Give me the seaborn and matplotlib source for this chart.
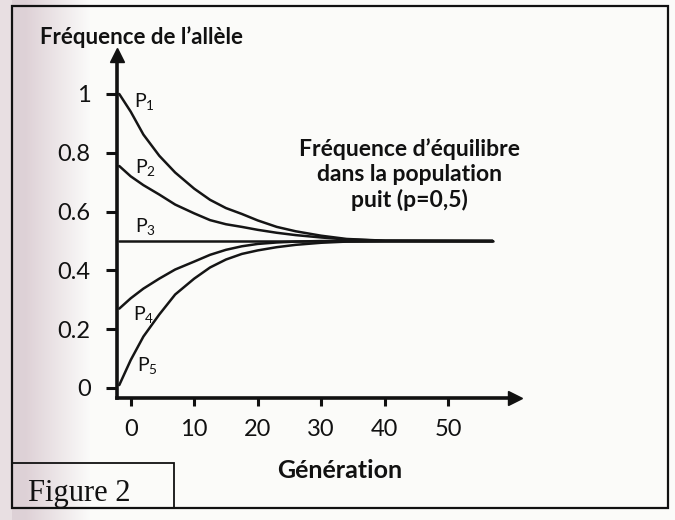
import numpy as np
import pandas as pd
import matplotlib
matplotlib.use("Agg")
import matplotlib.pyplot as plt
import seaborn as sns
from matplotlib.patches import Rectangle

# ---- data ----
generations = [-1.8, 0, 2, 4.5, 7, 10, 12.5, 15, 17.5, 20, 23, 26, 30, 34, 40, 57]
p1 = [1.00, 0.94, 0.862, 0.79, 0.733, 0.678, 0.64, 0.612, 0.592, 0.57, 0.548, 0.533, 0.518, 0.507, 0.501, 0.50]
p2 = [0.755, 0.72, 0.69, 0.658, 0.624, 0.594, 0.571, 0.557, 0.548, 0.538, 0.528, 0.52, 0.512, 0.505, 0.501, 0.50]
p3 = [0.50, 0.50, 0.50, 0.50, 0.50, 0.50, 0.50, 0.50, 0.50, 0.50, 0.50, 0.50, 0.50, 0.50, 0.50, 0.50]
p4 = [0.27, 0.305, 0.338, 0.372, 0.403, 0.43, 0.453, 0.47, 0.482, 0.49, 0.495, 0.498, 0.50, 0.50, 0.50, 0.50]
p5 = [0.01, 0.095, 0.175, 0.25, 0.318, 0.372, 0.41, 0.437, 0.456, 0.468, 0.479, 0.487, 0.494, 0.498, 0.50, 0.50]
series_names = ["P1", "P2", "P3", "P4", "P5"]
series_labels = [r"$\mathregular{P_1}$", r"$\mathregular{P_2}$", r"$\mathregular{P_3}$",
                 r"$\mathregular{P_4}$", r"$\mathregular{P_5}$"]
label_x = [2.2, 2.4, 2.4, 2.0, 2.6]
label_y = [0.975, 0.75, 0.55, 0.25, 0.075]
x_ticks = [0, 10, 20, 30, 40, 50]
y_ticks = [0, 0.2, 0.4, 0.6, 0.8, 1]
y_tick_labels = ["0", "0.2", "0.4", "0.6", "0.8", "1"]

rows = []
for name, vals in zip(series_names, [p1, p2, p3, p4, p5]):
    for g, v in zip(generations, vals):
        rows.append({"Génération": g, "freq": v, "série": name})
df = pd.DataFrame(rows)

sns.set_style("white")
plt.rcParams["font.family"] = ["Lato", "DejaVu Sans"]
plt.rcParams["mathtext.fontset"] = "custom"
plt.rcParams["mathtext.rm"] = "Lato"

W, H = 675, 520
fig = plt.figure(figsize=(W / 100, H / 100), dpi=100)
fig.patch.set_facecolor("white")

def fx(px):
    return px / W

def fy(py):
    return 1 - py / H

# background (photo-like tint on the left)
bg = fig.add_axes([0, 0, 1, 1], zorder=-10)
bg.axis("off")
xs = np.arange(W)
t = np.clip((xs - 25) / 65.0, 0, 1)
t = np.where(xs < 12, 0.35, t)
left_col = np.array([0.87, 0.82, 0.84])
right_col = np.array([0.985, 0.985, 0.98])
img = (left_col[None, :] * (1 - t[:, None]) + right_col[None, :] * t[:, None])[None, :, :]
img = np.repeat(img, 2, axis=0)
bg.imshow(img, aspect="auto", extent=[0, 1, 0, 1])
bg.set_xlim(0, 1)
bg.set_ylim(0, 1)

# outer frame
fig.add_artist(Rectangle((fx(12), fy(508)), fx(668) - fx(12), fy(6) - fy(508),
                         transform=fig.transFigure, fill=False, lw=1.6, ec="#111111"))
# "Figure 2" box
fig.add_artist(Rectangle((fx(12), fy(508)), fx(174) - fx(12), fy(463) - fy(508),
                         transform=fig.transFigure, fill=False, lw=1.3, ec="#111111"))
fig.text(fx(28), fy(501), "Figure 2", family=["Liberation Serif"], fontsize=22,
         ha="left", va="baseline", color="#111111")

# main axes
left_px, right_px, top_px, bottom_px = 117, 515, 55, 398
ax = fig.add_axes([fx(left_px), fy(bottom_px), fx(right_px) - fx(left_px), fy(top_px) - fy(bottom_px)])
ax.set_facecolor("none")

sns.lineplot(data=df, x="Génération", y="freq", hue="série",
             palette={n: "#151515" for n in series_names}, legend=False,
             lw=1.8, ax=ax)

ax.set_xlim((left_px - 130.7) / 6.35, (right_px - 130.7) / 6.35)
ax.set_ylim((388 - bottom_px) / 294, (388 - top_px) / 294)

for s in ["top", "right"]:
    ax.spines[s].set_visible(False)
for s in ["left", "bottom"]:
    ax.spines[s].set_linewidth(2.6)
    ax.spines[s].set_color("#111111")

ax.plot(1, 0, marker=">", ms=10, color="#111111", transform=ax.transAxes, clip_on=False)
ax.plot(0, 1, marker="^", ms=10, color="#111111", transform=ax.transAxes, clip_on=False)

ax.set_xticks(x_ticks)
ax.set_xticklabels([str(v) for v in x_ticks])
ax.set_yticks(y_ticks)
ax.set_yticklabels(y_tick_labels)
ax.tick_params(axis="x", direction="out", length=6, width=2.2, color="#111111",
               labelsize=17, pad=9, labelcolor="#111111", bottom=True)
ax.tick_params(axis="y", direction="out", length=8, width=2.2, color="#111111",
               labelsize=17, pad=11, labelcolor="#111111", left=True)
ax.set_xlabel("")
ax.set_ylabel("")

for lab, lx, ly in zip(series_labels, label_x, label_y):
    ax.text(lx, ly, lab, fontsize=14, ha="center", va="center", color="#111111")

# texts
fig.text(fx(40), fy(37), "Fréquence de l’allèle", fontsize=16, fontweight="bold",
         ha="left", va="center", color="#111111")
fig.text(fx(340), fy(471), "Génération", fontsize=18, fontweight="bold",
         ha="center", va="center", color="#111111")
fig.text(fx(409), fy(175), "Fréquence d’équilibre\ndans la population\npuit (p=0,5)",
         fontsize=16.5, fontweight="bold", ha="center", va="center",
         linespacing=1.22, color="#111111")

fig.savefig("out.png", dpi=100)
